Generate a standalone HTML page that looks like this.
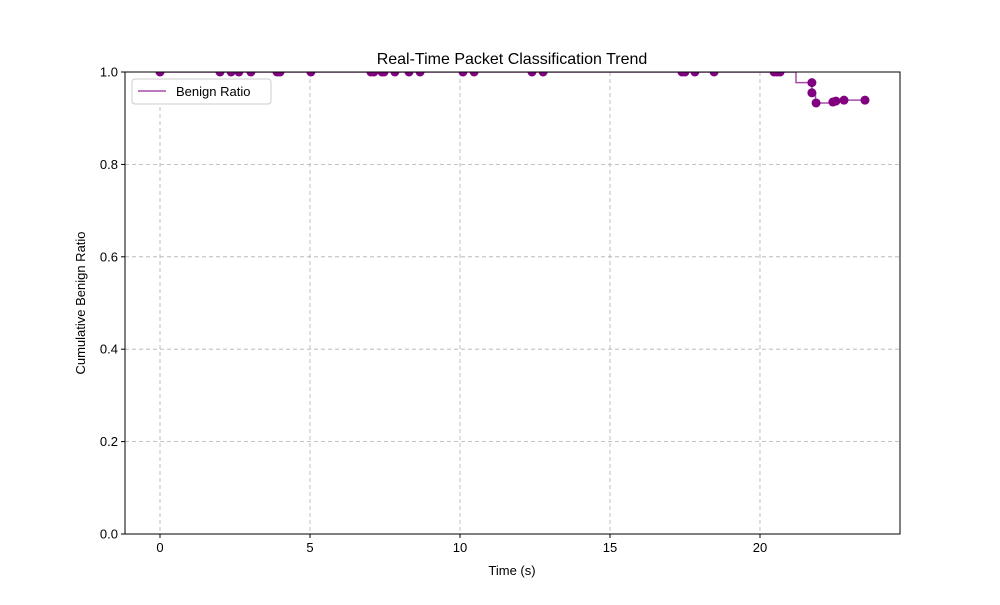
<!DOCTYPE html>
<html><head><meta charset="utf-8"><style>
body{margin:0;background:#fff;font-family:"Liberation Sans","DejaVu Sans",sans-serif}
</style></head><body>
<svg id="chart" width="1000" height="600" xmlns="http://www.w3.org/2000/svg">
<defs><clipPath id="clip"><rect x="125" y="72" width="775" height="462"/></clipPath></defs>
</svg>
<script>
const times=[0,2.0,2.37,2.63,3.03,3.9,4.0,5.03,7.03,7.13,7.4,7.47,7.83,8.3,8.67,10.1,10.47,12.4,12.77,17.4,17.5,17.83,18.47,20.47,20.57,20.67,21.73,21.73,21.87,22.43,22.53,22.8,23.5];
const ratios=[1,1,1,1,1,1,1,1,1,1,1,1,1,1,1,1,1,1,1,1,1,1,1,1,1,1,0.977,0.955,0.933,0.935,0.937,0.939,0.939];
const lineTimes=[0,20.67,21.2,21.73,21.85,22.43,22.53,22.8,23.5];
const lineRatios=[1,1,0.977,0.955,0.933,0.935,0.937,0.939,0.939];
const xTicks=[0,5,10,15,20];
const yTicks=[0,0.2,0.4,0.6,0.8,1.0];
const NS="http://www.w3.org/2000/svg";
const svg=document.getElementById('chart');
const L=125,R=900,T=72,B=534,xmin=-1.1667,xmax=24.667;
const X=v=>L+(v-xmin)/(xmax-xmin)*(R-L);
const Y=v=>B-v*(B-T);
function el(t,a,txt,parent){const e=document.createElementNS(NS,t);for(const k in a)e.setAttribute(k,a[k]);if(txt!==undefined)e.textContent=txt;(parent||svg).appendChild(e);return e;}
xTicks.forEach(v=>{
 const g=el('line',{x1:X(v),x2:X(v),y1:T,y2:B,stroke:'#b0b0b0','stroke-dasharray':'4,3','stroke-width':0.8});
 
 
 el('line',{x1:X(v),x2:X(v),y1:B,y2:B+4,stroke:'#000'});
 const t=el('text',{x:X(v),y:B+18,'text-anchor':'middle','font-size':13},String(v));
 
 
});
yTicks.forEach(v=>{
 const g=el('line',{x1:L,x2:R,y1:Y(v),y2:Y(v),stroke:'#b0b0b0','stroke-dasharray':'4,3','stroke-width':0.8});
 
 
 el('line',{x1:L-4,x2:L,y1:Y(v),y2:Y(v),stroke:'#000'});
 const t=el('text',{x:L-7,y:Y(v)+4.5,'text-anchor':'end','font-size':13},v.toFixed(1));
 
 
});
const plot=el('g',{'clip-path':'url(#clip)'});


let d='';
lineTimes.forEach((t,i)=>{
 if(i===0)d+='M'+X(t)+','+Y(lineRatios[i]);
 else d+=' L'+X(t)+','+Y(lineRatios[i-1])+' L'+X(t)+','+Y(lineRatios[i]);
});
const p=el('path',{d:d,fill:'none',stroke:'#800080','stroke-opacity':0.7,'stroke-width':1.5},undefined,plot);


times.forEach((t,i)=>{
 const c=el('circle',{cx:X(t),cy:Y(ratios[i]),r:4.5,fill:'#800080'},undefined,plot);
 
 
});
const frame=el('rect',{x:L,y:T,width:R-L,height:B-T,fill:'none',stroke:'#000','stroke-width':1});


const title=el('text',{x:512,y:64,'text-anchor':'middle','font-size':16},'Real-Time Packet Classification Trend');


const xl=el('text',{x:512,y:575,'text-anchor':'middle','font-size':13},'Time (s)');


const yl=el('text',{x:85,y:303,'text-anchor':'middle','font-size':13,transform:'rotate(-90 85 303)'},'Cumulative Benign Ratio');


const lg=el('rect',{x:132,y:79,width:139,height:25,rx:3,fill:'#fff',stroke:'#ccc'});


el('line',{x1:138,x2:166,y1:91,y2:91,stroke:'#800080','stroke-opacity':0.7,'stroke-width':1.5});
const lt=el('text',{x:176,y:96,'font-size':13},'Benign Ratio');


</script>
</body></html>
